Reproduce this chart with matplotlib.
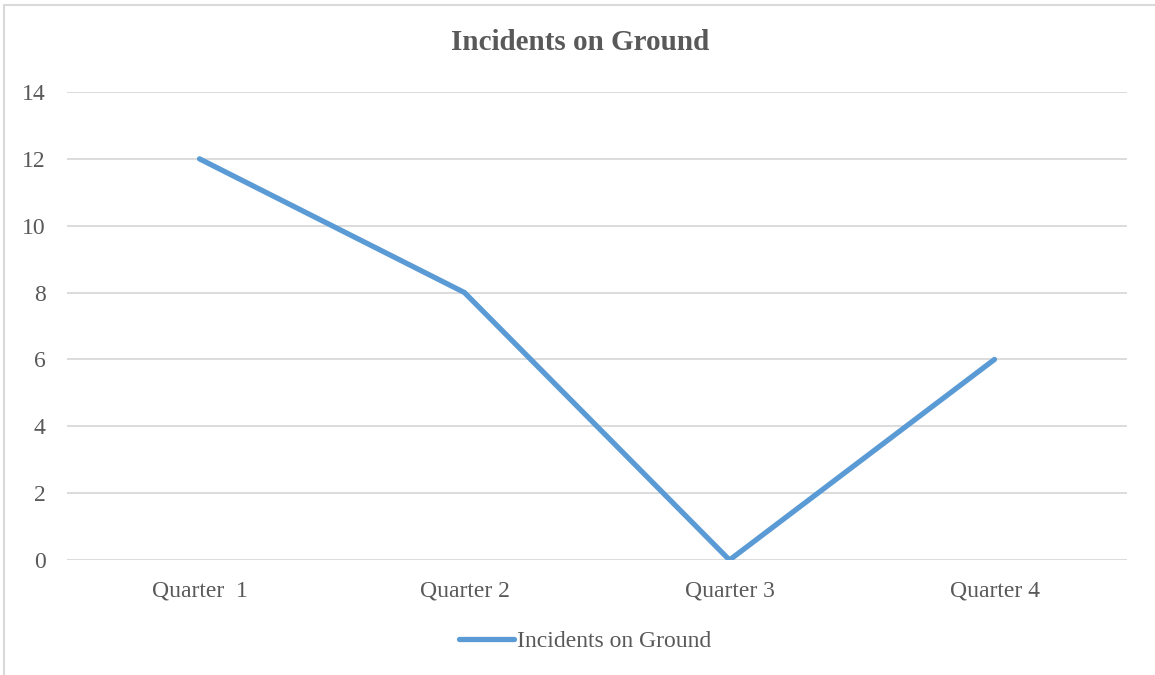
import matplotlib.pyplot as plt
from matplotlib.patches import Rectangle

# Data
quarters = ['Quarter  1', 'Quarter 2', 'Quarter 3', 'Quarter 4']
incidents = [12, 8, 0, 6]
yticks = [0, 2, 4, 6, 8, 10, 12, 14]

line_color = '#5B9BD5'
text_color = '#595959'
grid_color = '#D9D9D9'

plt.rcParams['font.family'] = ['Liberation Serif', 'DejaVu Serif']

fig = plt.figure(figsize=(11.55, 6.75), dpi=100)
ax = fig.add_axes([67 / 1155, 115 / 675, 1060 / 1155, 468 / 675])

x = list(range(len(quarters)))
line, = ax.plot(x, incidents, color=line_color, lw=3.8, solid_capstyle='round',
                solid_joinstyle='miter', label='Incidents on Ground', zorder=3)

ax.set_xlim(-0.5, len(quarters) - 0.5)
ax.set_ylim(0, 14)
ax.set_yticks(yticks)
ax.set_xticks(x)
ax.set_xticklabels(quarters)
ax.tick_params(axis='both', length=0, labelsize=17, colors=text_color)
ax.tick_params(axis='y', pad=15.5)
ax.tick_params(axis='x', pad=15)
ax.yaxis.grid(True, color=grid_color, lw=1.3)
ax.set_axisbelow(True)
for s in ax.spines.values():
    s.set_visible(False)

fig.text(580 / 1155, 1 - 43 / 675, 'Incidents on Ground', ha='center', va='center',
         fontsize=21, fontweight='bold', color=text_color)

leg = fig.legend(handles=[line], loc='center', bbox_to_anchor=(585 / 1155, 1 - 641 / 675),
                 frameon=False, fontsize=17, handlelength=2.35, handletextpad=0.12,
                 labelcolor=text_color)

# chart border (Excel style)
fig.patches.append(Rectangle((4 / 1155, -0.1), 1.2, 1 - 5 / 675 + 0.1, transform=fig.transFigure,
                             fill=False, edgecolor='#D9D9D9', lw=1.5))

fig.savefig('out.png', dpi=100)
